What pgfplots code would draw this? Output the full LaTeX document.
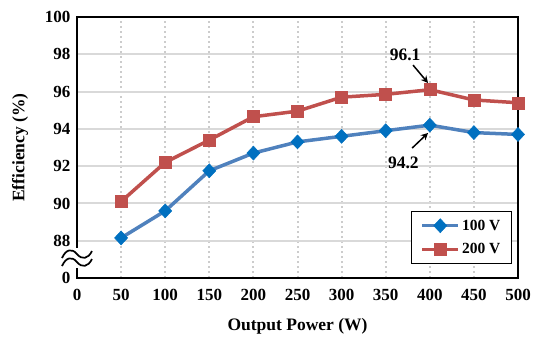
\documentclass[border=0pt]{standalone}
\usepackage{fontspec}
\setmainfont{Liberation Serif}
\usepackage{pgfplots}
\pgfplotsset{compat=1.18}
\usetikzlibrary{arrows.meta}
\definecolor{bline}{HTML}{4F81BD}
\definecolor{bmark}{HTML}{0070C0}
\definecolor{rline}{HTML}{C0504D}
\pgfplotstableread{
x y
50 88.15
100 89.6
150 91.75
200 92.7
250 93.3
300 93.6
350 93.9
400 94.2
450 93.8
500 93.7
}\hundred
\pgfplotstableread{
x y
50 90.1
100 92.2
150 93.4
200 94.65
250 94.95
300 95.7
350 95.85
400 96.1
450 95.55
500 95.4
}\twohundred
\begin{document}
\begin{tikzpicture}
\begin{axis}[
 name=ax,
 scale only axis, width=441pt, height=261pt,
 xmin=0, xmax=500, ymin=86, ymax=100,
 xtick={0,50,...,500}, ytick={86,88,...,100},
 yticklabels={0,88,90,92,94,96,98,100},
 tick style={draw=none},
 axis line style={line width=2.2pt},
 font=\fontsize{17.5}{20}\selectfont\bfseries,
 /pgf/number format/assume math mode=true,
 ticklabel style={font=\fontsize{17}{19}\selectfont\bfseries},
 xticklabel style={yshift=-8pt},
 yticklabel style={xshift=-3pt},
 xlabel style={yshift=-10pt},
 ylabel style={yshift=10pt},
 xmajorgrids, ymajorgrids,
 x grid style={line width=2pt, color=gray!40, dash pattern=on 2pt off 3pt},
 y grid style={line width=2pt, color=gray!30},
 xlabel={Output Power (W)}, ylabel={Efficiency (\%)},
 legend style={at={(rel axis cs:0.986,0.054)}, anchor=south east, draw=black, line width=1pt,
   font=\fontsize{15.5}{17}\selectfont\bfseries, row sep=8pt, inner xsep=9pt, inner ysep=6pt},
 legend cell align=left,
 legend image code/.code={\draw[#1] (0pt,0pt) -- (36pt,0pt);
   \draw[#1, only marks] plot coordinates {(18pt,0pt)};},
]
\addplot[color=bline, line width=3.5pt, mark=diamond*, mark size=7pt,
  mark options={fill=bmark, draw=bmark, line width=0.5pt, xscale=1.25, solid}] table[x=x,y=y] {\hundred};
\addlegendentry{100 V}
\addplot[color=rline, line width=3.5pt, mark=square*, mark size=6pt,
  mark options={fill=rline, draw=rline, line width=0.5pt, solid}] table[x=x,y=y] {\twohundred};
\addlegendentry{200 V}
\node at (axis cs:372,97.96) {96.1};
\draw[-{Stealth[length=7pt,width=7pt]}, line width=1.5pt] (axis cs:381,97.42) -- (axis cs:398,96.46);
\node at (axis cs:370,92.17) {94.2};
\draw[-{Stealth[length=7pt,width=7pt]}, line width=1.5pt] (axis cs:380,92.97) -- (axis cs:398,93.78);
\coordinate (brk) at (axis cs:0,87.07);
\end{axis}
\begin{scope}[shift={(brk)}]
\fill[white] (-3pt,-10pt) rectangle (3pt,10pt);
\draw[line width=1.7pt] (-15pt,0pt) .. controls (-11pt,9pt) and (-5pt,10pt) .. (0pt,4pt) .. controls (5pt,-2pt) and (11pt,-1pt) .. (15pt,7pt);
\draw[line width=1.7pt] (-15pt,-8pt) .. controls (-11pt,1pt) and (-5pt,2pt) .. (0pt,-4pt) .. controls (5pt,-10pt) and (11pt,-9pt) .. (15pt,-1pt);
\end{scope}
\path ([shift={(-77pt,-67pt)}]ax.south west) rectangle ([shift={(32pt,17pt)}]ax.north east);
\end{tikzpicture}
\end{document}
